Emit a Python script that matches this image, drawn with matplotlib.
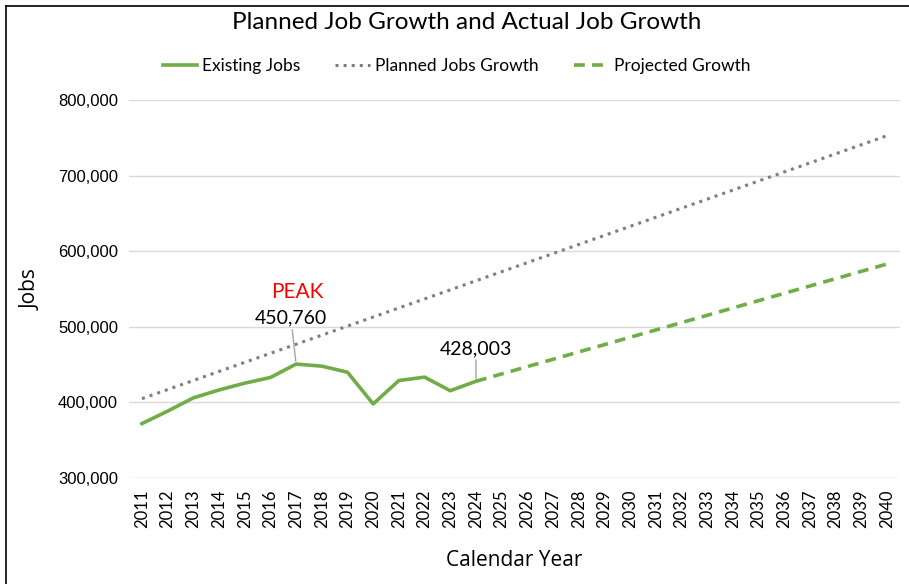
import matplotlib.pyplot as plt
from matplotlib.ticker import FuncFormatter
from matplotlib.lines import Line2D

years = [str(y) for y in range(2011, 2041)]

# existing jobs 2011-2024
existing = [372000, 388500, 406000, 416500, 425500, 433000, 450760,
            448000, 440000, 398000, 429000, 433500, 415500, 428003]

# planned growth line 2011-2040
planned = [405000, 417000, 429000, 441000, 453000, 465000, 477000, 489000,
           501000, 513000, 525000, 537000, 549000, 561000, 573000, 585000,
           597000, 609000, 621000, 633000, 645000, 657000, 669000, 681000,
           693000, 705000, 717000, 729000, 741000, 753000]

# projected growth 2024-2040
projected = [428003, 437700, 447400, 457100, 466800, 476500, 486200, 495900,
             505600, 515300, 525000, 534700, 544400, 554100, 563800, 573500,
             583200]

green = '#70AD47'
gray = '#7F7F7F'
gill = ['Lato', 'DejaVu Sans']

fig = plt.figure(figsize=(9.09, 5.84), dpi=100)
ax = fig.add_axes([0.142, 0.1815, 0.848, 0.647])

x_all = list(range(len(years)))
ax.plot(x_all, planned, ':', color=gray, lw=2.2, label='Planned Jobs Growth', zorder=2)
ax.plot(x_all[:len(existing)], existing, '-', color=green, lw=2.6, label='Existing Jobs', zorder=3)
ax.plot(x_all[13:], projected, '--', color=green, lw=2.6, dashes=(3, 2), label='Projected Growth', zorder=3)

ax.set_xlim(-0.5, 29.5)
ax.set_ylim(300000, 800000)
ax.set_yticks([300000, 400000, 500000, 600000, 700000, 800000])
ax.yaxis.set_major_formatter(FuncFormatter(lambda v, p: f'{int(v):,}'))
ax.set_xticks(x_all)
ax.set_xticklabels(years, rotation=90, fontsize=12, family=gill)
for t in ax.get_yticklabels():
    t.set_family(['Liberation Sans', 'DejaVu Sans'])
    t.set_fontsize(12)
ax.tick_params(length=0, pad=8)
ax.grid(axis='y', color='#D9D9D9', lw=1)
ax.set_axisbelow(True)
for s in ax.spines.values():
    s.set_visible(False)

ax.set_ylabel('Jobs', fontsize=15, family=['Open Sans', 'DejaVu Sans'], labelpad=12)
ax.set_xlabel('Calendar Year', fontsize=15, family=['Open Sans', 'DejaVu Sans'], labelpad=16)

# annotations
peak_i = 6
ax.annotate('450,760', xy=(peak_i, existing[peak_i]), xytext=(peak_i - 0.2, 500000),
            ha='center', va='bottom', fontsize=14, family=gill,
            arrowprops=dict(arrowstyle='-', color='#A6A6A6', lw=1, shrinkA=0, shrinkB=2))
ax.text(peak_i + 0.05, 533000, 'PEAK', color='#FF0000', ha='center', va='bottom',
        fontsize=15, family=gill)
ax.annotate('428,003', xy=(13, existing[13]), xytext=(13, 460000),
            ha='center', va='bottom', fontsize=14, family=gill,
            arrowprops=dict(arrowstyle='-', color='#A6A6A6', lw=1, shrinkA=0, shrinkB=2))

fig.text(0.513, 0.962, 'Planned Job Growth and Actual Job Growth', ha='center', va='center',
         fontsize=17.5, family=gill)

handles = [Line2D([], [], color=green, lw=2.6),
           Line2D([], [], color=gray, lw=2.2, ls=':'),
           Line2D([], [], color=green, lw=2.6, ls='--', dashes=(3, 2))]
fig.legend(handles, ['Existing Jobs', 'Planned Jobs Growth', 'Projected Growth'],
           loc='center', bbox_to_anchor=(0.502, 0.887), ncol=3, frameon=False,
           prop={'family': gill, 'size': 12.5}, handlelength=2.0, columnspacing=2.0,
           handletextpad=0.3)

# border on left and top
fig.add_artist(Line2D([0.007, 0.007], [0, 0.99], color='black', lw=1.2, transform=fig.transFigure))
fig.add_artist(Line2D([0.007, 1], [0.99, 0.99], color='black', lw=1.2, transform=fig.transFigure))

fig.savefig('out.png', dpi=100)
